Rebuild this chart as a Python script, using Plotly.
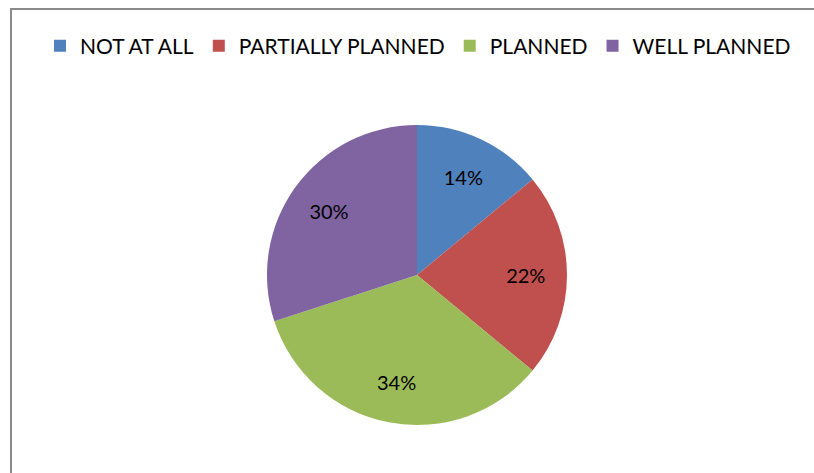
import plotly.graph_objects as go

labels = ["NOT AT ALL", "PARTIALLY PLANNED", "PLANNED", "WELL PLANNED"]
values = [14, 22, 34, 30]
colors = ["#4F81BD", "#C0504D", "#9BBB59", "#8064A2"]

W, H = 814, 473
cx, cy, r = 417, 275, 150
hole = 0.45
ri = r * hole + 2

def dom(rad):
    return dict(x=[(cx - rad) / W, (cx + rad) / W], y=[(H - cy - rad) / H, (H - cy + rad) / H])

outer = go.Pie(
    labels=labels, values=values, sort=False, direction="clockwise", rotation=0,
    marker=dict(colors=colors, line=dict(width=0)), hole=hole,
    textinfo="percent", textposition="inside", insidetextorientation="horizontal",
    textfont=dict(color="black", size=20, family="Lato"),
    domain=dom(r), hoverinfo="label+percent",
)
inner = go.Pie(
    labels=labels, values=values, sort=False, direction="clockwise", rotation=0,
    marker=dict(colors=colors, line=dict(width=0)),
    textinfo="none", showlegend=False, domain=dom(ri), hoverinfo="label+percent",
)
fig = go.Figure([outer, inner])

fig.update_layout(
    width=W, height=H, margin=dict(l=0, r=0, t=0, b=0),
    paper_bgcolor="white", plot_bgcolor="white",
    font=dict(family="Lato", color="black"),
    showlegend=True,
    legend=dict(orientation="h", x=418 / W, xanchor="center", y=1 - 46 / H, yanchor="middle",
                font=dict(size=21, family="Lato"), traceorder="normal"),
    shapes=[
        dict(type="line", xref="paper", yref="paper", x0=10 / W, x1=1.01, y0=1 - 9 / H, y1=1 - 9 / H,
             line=dict(color="#8a8a8a", width=2)),
        dict(type="line", xref="paper", yref="paper", x0=11 / W, x1=11 / W, y0=1 - 9 / H, y1=-0.01,
             line=dict(color="#8a8a8a", width=2)),
    ],
)

fig.write_html("out.html", config={"displayModeBar": False},
               post_script="document.body.style.margin='0';")
